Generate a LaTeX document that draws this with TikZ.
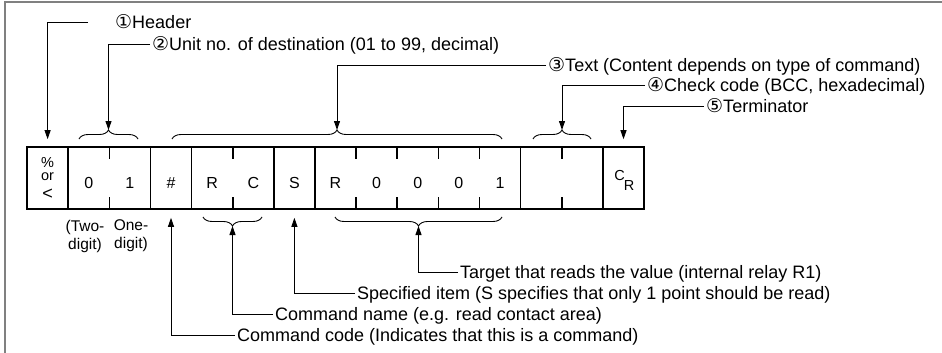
\documentclass[tikz,border=0pt]{standalone}
\usepackage{fontspec}
\setmainfont{Liberation Sans}
\newfontfamily\dejavu{DejaVu Sans}
\usetikzlibrary{arrows.meta,decorations.pathreplacing}
\newcommand{\circnum}[1]{{\dejavu\fontsize{19}{19}\selectfont #1}}
\begin{document}
\begin{tikzpicture}[x=1pt,y=-1pt,
  cell/.style={draw, line width=1.6pt, minimum height=62pt, inner sep=0pt},
  ctext/.style={font=\fontsize{16}{16}\selectfont, inner sep=0pt},
  small/.style={font=\fontsize{14.5}{14.5}\selectfont, inner sep=0pt},
  lab/.style={anchor=west, inner xsep=2pt, inner ysep=0pt, text height=13pt, text depth=0pt, font=\fontsize{18}{21}\selectfont},
  conn/.style={line width=0.9pt},
  arr/.style={conn, -{Triangle[length=9pt,width=6pt]}},
  brc/.style={line width=0.9pt, decorate, decoration={brace, amplitude=9pt}},
  tickln/.style={line width=1.6pt},
  frameln/.style={line width=2pt, draw=black!50}]
\useasboundingbox (0,0) rectangle (942,353);
% frame
\draw[frameln] (5,353) -- (5,2) -- (942,2);
% cells
\node[cell, minimum width=41.13pt]  (hdr)  at (47.6,178) {};
\node[cell, minimum width=82.26pt]  (unit) at (109.3,178) {};
\node[cell, minimum width=41.13pt]  (hash) at (171.0,178) {};
\node[cell, minimum width=82.26pt]  (cmd)  at (232.7,178) {};
\node[cell, minimum width=41.13pt]  (spec) at (294.4,178) {};
\node[cell, minimum width=205.65pt] (tgt)  at (417.8,178) {};
\node[cell, minimum width=82.26pt]  (bcc)  at (561.8,178) {};
\node[cell, minimum width=41.13pt]  (term) at (623.5,178) {};
% ticks
\foreach \x in {109.3,232.7,356.0,397.2,438.3,479.4,561.8}{
  \draw[tickln] (\x,147) -- (\x,159);
  \draw[tickln] (\x,209) -- (\x,197);
}
% cell texts
\node[small] (pc) at (47.6,163) {\%};
\node[small] (orr) at (47.6,177) {or};
\node[font=\fontsize{18}{18}\selectfont, inner sep=0pt] (lt) at (47.6,194) {<};
\node[ctext] (d0) at (88.7,183) {0};
\node[ctext] (d1) at (129.9,183) {1};
\node[ctext] (hs) at (171.0,183) {\#};
\node[ctext] (r1) at (212.1,183) {R};
\node[ctext] (c1) at (253.3,183) {C};
\node[ctext] (s1) at (294.4,183) {S};
\node[ctext] (r2) at (335.5,183) {R};
\node[ctext] (z1) at (376.6,183) {0};
\node[ctext] (z2) at (417.8,183) {0};
\node[ctext] (z3) at (458.9,183) {0};
\node[ctext] (o1) at (500.0,183) {1};
\node[small] (crc) at (619.5,176) {C};
\node[small] (crr) at (629.0,186) {R};
% digit notes
\node[font=\fontsize{15.5}{18}\selectfont, align=center, inner sep=0pt] (two) at (85,236) {(Two-\\digit)};
\node[font=\fontsize{15.5}{18}\selectfont, align=center, inner sep=0pt] (one) at (131,236) {One-\\digit)};
% braces
\draw[brc] (79,139) -- (138,139);
\coordinate (b2) at (108.5,130);
\draw[brc] (172,139) -- (502,139);
\coordinate (b3) at (337,130);
\draw[brc] (533,139) -- (591,139);
\coordinate (b4) at (562,130);
\draw[brc] (262,217) -- (203,217);
\coordinate (b6) at (232.5,226);
\draw[brc] (502,217) -- (335,217);
\coordinate (b7) at (418.5,226);
% top labels
\node[lab] (l1) at (113,22) {\circnum{①}Header};
\node[lab] (l2) at (150,44) {\circnum{②}Unit no. of destination (01 to 99, decimal)};
\node[lab] (l3) at (546,65) {\circnum{③}Text (Content depends on type of command)};
\node[lab] (l4) at (645,85) {\circnum{④}Check code (BCC, hexadecimal)};
\node[lab] (l5) at (704,106) {\circnum{⑤}Terminator};
\coordinate (h1) at (88,22);
\draw[arr, shorten >=7pt] (h1) -| (hdr.north);
\draw[arr] (l2.west) -| (b2);
\draw[arr] (l3.west) -| (b3);
\draw[arr] (l4.west) -| (b4);
\draw[arr, shorten >=7pt] (l5.west) -| (term.north);
% bottom labels
\node[lab] (l6) at (458,272) {Target that reads the value (internal relay R1)};
\node[lab] (l7) at (355,293) {Specified item (S specifies that only 1 point should be read)};
\node[lab] (l8) at (273,314) {Command name (e.g. read contact area)};
\node[lab] (l9) at (235,335) {Command code (Indicates that this is a command)};
\draw[arr] (l6.west) -| (b7);
\draw[arr, shorten >=8pt] (l7.west) -| (spec.south);
\draw[arr] (l8.west) -| (b6);
\draw[arr, shorten >=8pt] (l9.west) -| (hash.south);
\end{tikzpicture}
\end{document}
